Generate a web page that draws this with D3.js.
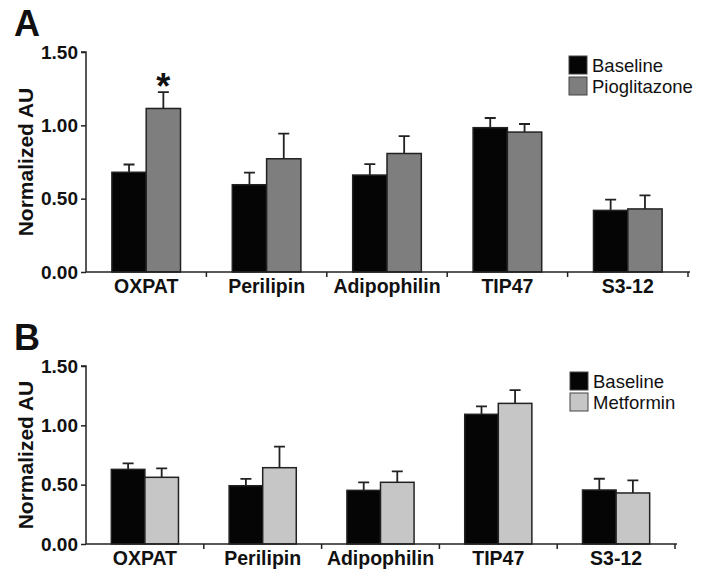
<!DOCTYPE html>
<html lang="en">
<head>
    <meta charset="UTF-8">
    <title>OXPAT panels</title>
    <script src="https://d3js.org/d3.v7.min.js"></script>
    <style>
        body { margin: 0; background: #fff; }
        svg text { font-family: "Liberation Sans", Arial, sans-serif; fill: #111; }
    </style>
</head>
<body>
    <svg width="701" height="571"></svg>

    <script>
        // data
        const categories = ["OXPAT", "Perilipin", "Adipophilin", "TIP47", "S3-12"];
        const yTicks = [0, 0.5, 1.0, 1.5];

        const baselineA = [0.68, 0.595, 0.661, 0.984, 0.42];
        const baselineAErr = [0.053, 0.082, 0.075, 0.066, 0.073];
        const pioglitazone = [1.115, 0.772, 0.808, 0.954, 0.43];
        const pioglitazoneErr = [0.112, 0.171, 0.119, 0.055, 0.092];
        const pioglitazoneSig = [true, false, false, false, false];

        const baselineB = [0.629, 0.491, 0.452, 1.093, 0.455];
        const baselineBErr = [0.051, 0.057, 0.068, 0.067, 0.095];
        const metformin = [0.562, 0.643, 0.52, 1.185, 0.43];
        const metforminErr = [0.076, 0.177, 0.092, 0.112, 0.107];

        let svg = d3.select("svg");

        function drawPanel(p) {
            const g = svg.append("g");

            const y = d3.scaleLinear().domain([0, 1.5]).range([p.bottom, p.top]);
            const x0 = d3.scaleBand()
                .domain(categories)
                .range([p.left, p.right])
                .paddingInner(0.43)
                .paddingOuter(0.215);
            const x1 = d3.scaleBand()
                .domain(p.series.map(s => s.name))
                .range([0, x0.bandwidth()]);

            // panel letter
            g.append("text")
                .attr("x", 14).attr("y", p.top - 16)
                .attr("font-size", 36).attr("font-weight", "bold")
                .text(p.letter);

            // y label
            g.append("text")
                .attr("transform", `translate(33,${(p.top + p.bottom) / 2}) rotate(-90)`)
                .attr("text-anchor", "middle")
                .attr("font-size", 21).attr("font-weight", "bold")
                .text("Normalized AU");

            // bars
            p.series.forEach(s => {
                const grp = g.append("g");
                grp.selectAll("rect")
                    .data(categories)
                    .enter()
                    .append("rect")
                    .attr("x", d => x0(d) + x1(s.name))
                    .attr("y", (d, i) => y(s.values[i]))
                    .attr("width", x1.bandwidth())
                    .attr("height", (d, i) => y(0) - y(s.values[i]))
                    .attr("fill", s.color)
                    .attr("stroke", "#222")
                    .attr("stroke-width", 1.5);

                // error bars (upper only)
                const cx = d => x0(d) + x1(s.name) + x1.bandwidth() / 2;
                grp.selectAll(".err")
                    .data(categories)
                    .enter()
                    .append("path")
                    .attr("class", "err")
                    .attr("d", (d, i) => {
                        const t = y(s.values[i]), e = y(s.values[i] + s.err[i]);
                        return `M${cx(d)},${t}V${e}M${cx(d) - 5.5},${e}H${cx(d) + 5.5}`;
                    })
                    .attr("stroke", "#222")
                    .attr("stroke-width", 1.8)
                    .attr("fill", "none");

                if (s.sig) {
                    grp.selectAll(".sig")
                        .data(categories.filter((d, i) => s.sig[i]))
                        .enter()
                        .append("text")
                        .attr("class", "sig")
                        .attr("x", cx)
                        .attr("y", d => {
                            const i = categories.indexOf(d);
                            return y(s.values[i] + s.err[i]) + 7;
                        })
                        .attr("text-anchor", "middle")
                        .attr("font-size", 36).attr("font-weight", "bold")
                        .text("*");
                }
            });

            // y axis
            const yAxis = g.append("g")
                .attr("transform", `translate(${p.left},0)`)
                .call(d3.axisLeft(y).tickValues(yTicks).tickFormat(d3.format(".2f")).tickSize(5).tickPadding(3));
            yAxis.select(".domain").attr("d", `M-5,${p.top}H0V${p.bottom}`);

            // x axis with ticks between groups
            const bounds = d3.range(1, categories.length + 1).map(i => p.left + i * x0.step());
            const xAxis = g.append("g");
            xAxis.append("path")
                .attr("d", `M${p.left},${p.bottom}H${p.axisEnd}`)
                .attr("stroke", "#222").attr("stroke-width", 1.5);
            xAxis.selectAll(".xt")
                .data(bounds)
                .enter()
                .append("line")
                .attr("x1", d => d).attr("x2", d => d)
                .attr("y1", p.bottom).attr("y2", p.bottom + 5)
                .attr("stroke", "#222").attr("stroke-width", 1.5);
            xAxis.selectAll(".xl")
                .data(categories)
                .enter()
                .append("text")
                .attr("x", d => x0(d) + x0.bandwidth() / 2)
                .attr("y", p.bottom + 21)
                .attr("text-anchor", "middle")
                .attr("font-size", 19.5).attr("font-weight", "bold")
                .text(d => d);

            yAxis.selectAll("path, line").attr("stroke", "#222").attr("stroke-width", 1.5);
            yAxis.selectAll("text")
                .attr("font-size", 19).attr("font-weight", "bold")
                .attr("font-family", "Liberation Sans, Arial, sans-serif")
                .attr("fill", "#111");

            // legend
            const leg = g.append("g").attr("transform", `translate(${p.legendX},${p.legendY})`);
            p.series.forEach((s, i) => {
                leg.append("rect")
                    .attr("x", 0).attr("y", i * 21)
                    .attr("width", 18).attr("height", 18)
                    .attr("fill", s.color).attr("stroke", "#444").attr("stroke-width", 1);
                leg.append("text")
                    .attr("x", 23).attr("y", i * 21 + 16)
                    .attr("font-size", 18.5)
                    .text(s.name);
            });
        }

        drawPanel({
            letter: "A", top: 52, bottom: 272, left: 86, right: 688, axisEnd: 690,
            legendX: 569, legendY: 56,
            series: [
                { name: "Baseline", values: baselineA, err: baselineAErr, color: "#050505" },
                { name: "Pioglitazone", values: pioglitazone, err: pioglitazoneErr, color: "#7e7e7e", sig: pioglitazoneSig }
            ]
        });

        drawPanel({
            letter: "B", top: 366, bottom: 544, left: 86, right: 675, axisEnd: 677,
            legendX: 570, legendY: 372,
            series: [
                { name: "Baseline", values: baselineB, err: baselineBErr, color: "#050505" },
                { name: "Metformin", values: metformin, err: metforminErr, color: "#c6c6c6" }
            ]
        });
    </script>
</body>
</html>
